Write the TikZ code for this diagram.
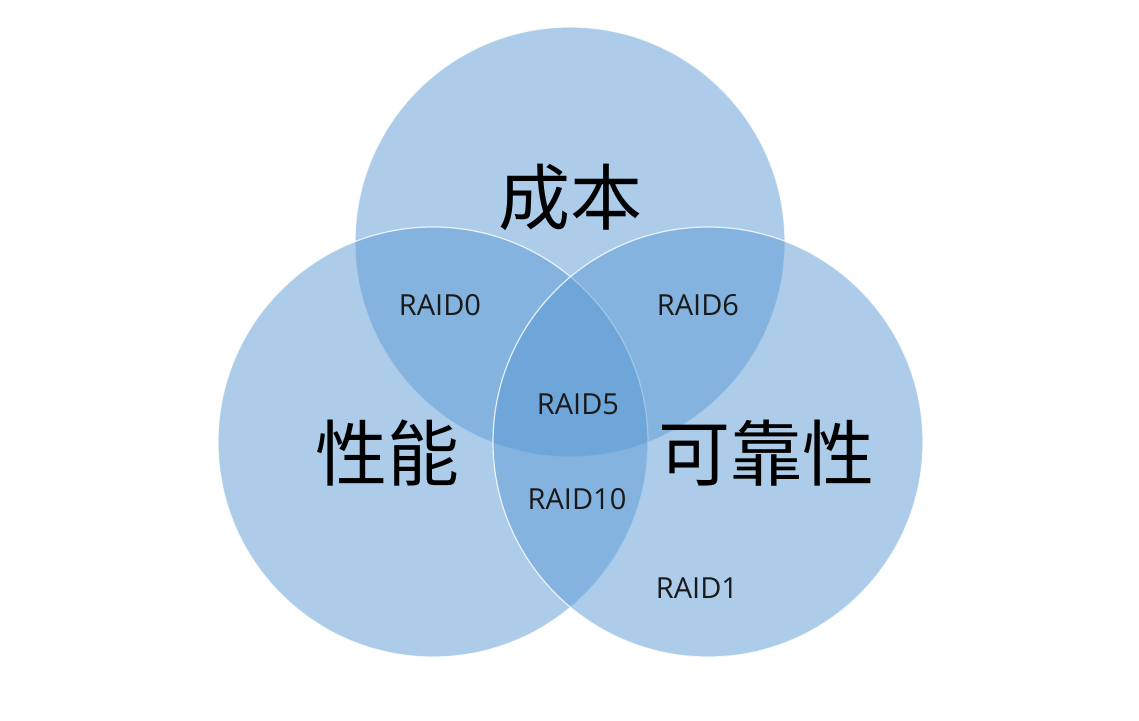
\documentclass[tikz,border=0pt]{standalone}
\usepackage{fontspec}
\setmainfont{Open Sans}
\newfontfamily\cjk{Noto Sans CJK SC}
\definecolor{vennblue}{RGB}{91,155,213}
\begin{document}
\begin{tikzpicture}[x=1pt,y=-1pt,
  venn/.style={fill=vennblue,fill opacity=0.5,draw=white,draw opacity=0.8,line width=1.2pt},
  big/.style={font=\cjk\fontsize{72}{80}\selectfont,text=black,inner sep=0pt},
  raid/.style={font=\fontsize{29}{34}\selectfont,text=black!90,inner sep=0pt}]
\useasboundingbox[fill=white] (0,0) rectangle (1139,720);
\path[venn] (570,242) circle[radius=215pt];
\path[venn] (433,442) circle[radius=215pt];
\path[venn] (708,442) circle[radius=215pt];
\node[big] (cost) at (570,197) {成本};
\node[big] (perf) at (387,453) {性能};
\node[big] (rel) at (766,453) {可靠性};
\node[raid] (r0) at (440,305) {RAID0};
\node[raid] (r6) at (698,305) {RAID6};
\node[raid] (r5) at (578,404) {RAID5};
\node[raid] (r10) at (577,499) {RAID10};
\node[raid] (r1) at (697,588) {RAID1};
\end{tikzpicture}
\end{document}
